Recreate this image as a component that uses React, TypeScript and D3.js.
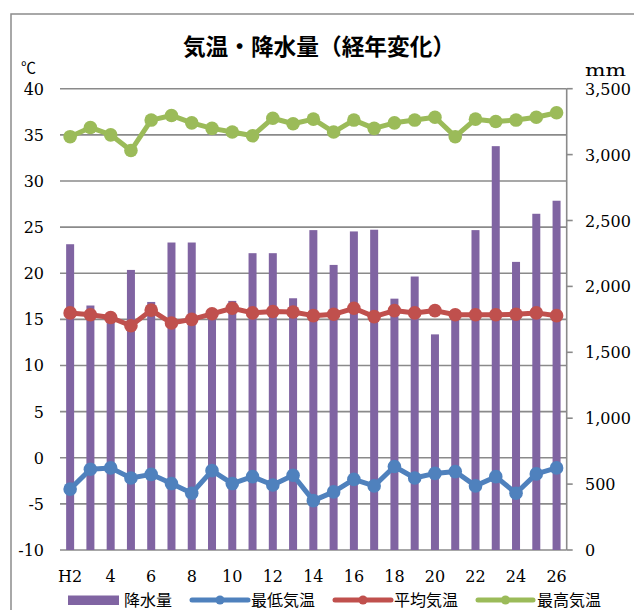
import React from "react";
import * as d3 from "d3";

const years = ["H2","3","4","5","6","7","8","9","10","11","12","13","14","15","16","17","18","19","20","21","22","23","24","25","26"];
const xTickLabels = ["H2","4","6","8","10","12","14","16","18","20","22","24","26"];
const precipitation = [2320,1855,1800,2125,1882,2333,2333,1800,1890,2252,2252,1910,2427,2163,2417,2430,1907,2075,1636,1780,2427,3064,2186,2551,2650];
const minTemp = [-3.4,-1.25,-1.1,-2.2,-1.8,-2.8,-3.85,-1.4,-2.8,-2.05,-2.95,-1.9,-4.65,-3.7,-2.35,-3.05,-0.95,-2.2,-1.7,-1.5,-3.05,-2.05,-3.85,-1.75,-1.1];
const meanTemp = [15.7,15.5,15.2,14.3,16.0,14.6,15.0,15.6,16.2,15.7,15.85,15.8,15.4,15.55,16.2,15.3,15.95,15.7,15.95,15.5,15.5,15.5,15.55,15.7,15.4];
const maxTemp = [34.8,35.8,35.0,33.3,36.6,37.1,36.3,35.7,35.3,34.9,36.8,36.2,36.7,35.3,36.6,35.7,36.3,36.6,36.9,34.8,36.7,36.45,36.6,36.9,37.4];
const leftTicks = [40,35,30,25,20,15,10,5,0,-5,-10];
const rightTicks = [0,500,1000,1500,2000,2500,3000,3500];

const W = 634, H = 610;
const plot = { left: 60, right: 566.7, top: 88.7, bottom: 550 };
const serif = "'DejaVu Serif', serif";
const cjk = "'Noto Sans CJK JP', sans-serif";

const series = [
  { name: "最低気温", data: minTemp, color: "#4F81BD" },
  { name: "平均気温", data: meanTemp, color: "#C0504D" },
  { name: "最高気温", data: maxTemp, color: "#9BBB59" },
];

export default function App() {
  const x = d3.scaleBand<string>().domain(years).range([plot.left, plot.right]).paddingInner(0).paddingOuter(0);
  const yT = d3.scaleLinear().domain([-10, 40]).range([plot.bottom, plot.top]);
  const yP = d3.scaleLinear().domain([0, 3500]).range([plot.bottom, plot.top]);
  const cx = (i: number) => (x(years[i]) as number) + x.bandwidth() / 2;
  const barW = 8;
  const line = d3.line<number>().x((_, i) => cx(i)).y((d) => yT(d));
  const tickIdx = (lbl: string) => years.indexOf(lbl);

  const legendItems = [
    { type: "bar", name: "降水量", color: "#8064A2", x0: 68, x1: 119, tx: 124 },
    { type: "line", name: "最低気温", color: "#4F81BD", x0: 192, x1: 248, tx: 251 },
    { type: "line", name: "平均気温", color: "#C0504D", x0: 335, x1: 391, tx: 394 },
    { type: "line", name: "最高気温", color: "#9BBB59", x0: 478, x1: 533, tx: 537 },
  ];

  return (
    <svg width={W} height={H} style={{ position: "absolute", left: 0, top: 0, background: "#fff" }}>
      <rect x={0} y={0} width={W} height={H} fill="#fff" />
      <rect x={11} y={14} width={W + 20} height={H + 20} fill="none" stroke="#8c8c8c" strokeWidth={1.5} />
      <text x={319} y={54.5} textAnchor="middle" fontFamily={cjk} fontWeight="bold" fontSize={22.7} fill="#000">気温・降水量（経年変化）</text>
      <text x={21} y={73} fontFamily={cjk} fontSize={15} fill="#000">℃</text>
      <text x={585} y={76} fontFamily={serif} fontSize={16} textLength={41} lengthAdjust="spacingAndGlyphs" fill="#000">mm</text>

      {leftTicks.map((t) => (
        <g key={"g" + t}>
          <line x1={plot.left} x2={plot.right} y1={yT(t)} y2={yT(t)} stroke="#8a8a8a" strokeWidth={1.6} />
          <text x={44} y={yT(t) + 6} textAnchor="end" fontFamily={serif} fontSize={16} fill="#000">{t}</text>
        </g>
      ))}

      {precipitation.map((p, i) => (
        <rect key={"b" + i} x={cx(i) - barW / 2} y={yP(p)} width={barW} height={yP(0) - yP(p)} fill="#8064A2" />
      ))}

      <line x1={plot.right} x2={plot.right} y1={plot.top} y2={plot.bottom} stroke="#8a8a8a" strokeWidth={1.6} />
      {rightTicks.map((t) => (
        <g key={"r" + t}>
          <line x1={plot.right} x2={plot.right + 6} y1={yP(t)} y2={yP(t)} stroke="#8a8a8a" strokeWidth={1.6} />
          <text x={585} y={yP(t) + 6} fontFamily={serif} fontSize={16} fill="#000">{d3.format(",")(t)}</text>
        </g>
      ))}

      {series.map((s) => (
        <g key={s.name}>
          <path d={line(s.data) as string} fill="none" stroke={s.color} strokeWidth={5} strokeLinejoin="round" />
          {s.data.map((v, i) => (
            <circle key={i} cx={cx(i)} cy={yT(v)} r={6.8} fill={s.color} />
          ))}
        </g>
      ))}

      {xTickLabels.map((l) => (
        <text key={"x" + l} x={cx(tickIdx(l))} y={582} textAnchor="middle" fontFamily={serif} fontSize={16} fill="#000">{l}</text>
      ))}

      {legendItems.map((it) => (
        <g key={it.name}>
          {it.type === "bar" ? (
            <rect x={it.x0} y={595.5} width={it.x1 - it.x0} height={9.5} fill={it.color} />
          ) : (
            <g>
              <line x1={it.x0} x2={it.x1} y1={600} y2={600} stroke={it.color} strokeWidth={5} strokeLinecap="round" />
              <circle cx={(it.x0 + it.x1) / 2} cy={600} r={4.5} fill={it.color} />
            </g>
          )}
          <text x={it.tx} y={606} fontFamily={cjk} fontSize={16} fill="#000">{it.name}</text>
        </g>
      ))}
    </svg>
  );
}
